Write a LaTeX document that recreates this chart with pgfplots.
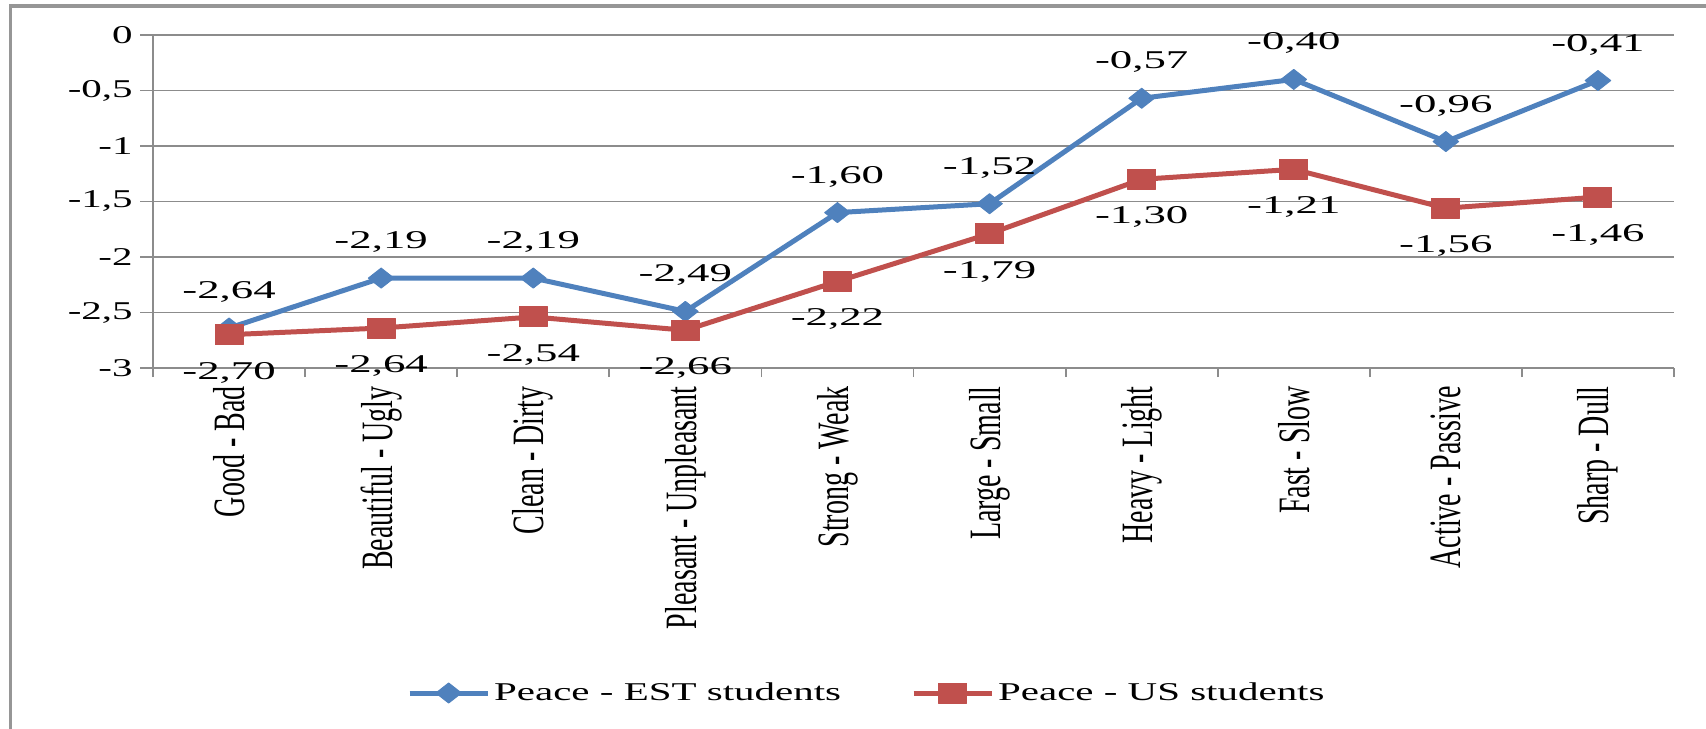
\documentclass[border=0pt]{standalone}
\usepackage{fontspec}
\setmainfont{Liberation Serif}
\newfontfamily\numfont{Liberation Serif}[FakeStretch=1.6]
\newfontfamily\datafont{Liberation Serif}[FakeStretch=1.75]
\newfontfamily\catfont{Liberation Serif}[FakeStretch=0.625]
\usepackage{pgfplots}
\usepackage{pgfplotstable}
\pgfplotsset{compat=1.18}
\definecolor{estblue}{RGB}{79,129,189}
\definecolor{usred}{RGB}{192,80,77}
\definecolor{gridgray}{RGB}{140,140,140}
\definecolor{framegray}{RGB}{150,150,150}
\newcommand\numsize{\fontsize{12.8}{14}\selectfont}
\newcommand\catsize{\fontsize{22.4}{24}\selectfont}

\pgfplotstableread{
x y
1 -2.64
2 -2.19
3 -2.19
4 -2.49
5 -1.60
6 -1.52
7 -0.57
8 -0.40
9 -0.96
10 -0.41
}\est
\pgfplotstableread{
x y
1 -2.70
2 -2.64
3 -2.54
4 -2.66
5 -2.22
6 -1.79
7 -1.30
8 -1.21
9 -1.56
10 -1.46
}\us

\begin{document}
\begin{tikzpicture}
\useasboundingbox (-76.5pt,-180pt) rectangle (776.5pt,184pt);
\draw[framegray, line width=1.75pt] (-71.25pt,-190pt) -- (-71.25pt,181pt) -- (790pt,181pt);
\begin{axis}[
  at={(0pt,0pt)}, anchor=south west,
  scale only axis, width=760.5pt, height=166.5pt,
  xmin=0.5, xmax=10.5, ymin=-3, ymax=0,
  axis x line=bottom, axis y line=left,
  every outer x axis line/.append style={-},
  every outer y axis line/.append style={-},
  axis line style={draw=gridgray, line width=0.9pt},
  ymajorgrids, major grid style={draw=gridgray, line width=0.9pt},
  tick align=outside,
  xtick={1,...,10},
  xticklabels={Good - Bad, Beautiful - Ugly, Clean - Dirty, Pleasant - Unpleasant, Strong - Weak, Large - Small, Heavy - Light, Fast - Slow, Active - Passive, Sharp - Dull},
  minor xtick={0.5,1.5,...,10.5},
  major x tick style={draw=none},
  minor x tick style={draw=gridgray, line width=0.9pt},
  minor tick length=4.5pt,
  major tick length=6.5pt,
  major y tick style={draw=gridgray, line width=0.9pt},
  ytick={-3,-2.5,-2,-1.5,-1,-0.5,0},
  yticklabels={{-3},{-2,5},{-2},{-1,5},{-1},{-0,5},{0}},
  yticklabel style={font=\numfont\numsize, anchor=east, inner sep=0pt, xshift=-3.5pt},
  xticklabel style={font=\catfont\catsize, yshift=-2.5pt, rotate=90, anchor=east, inner sep=0pt},
  legend image code/.code={
    \draw[#1, mark repeat=2, mark phase=2] plot coordinates {(0pt,0pt) (19.5pt,0pt) (39pt,0pt)};
  },
  legend style={draw=none, fill=none, at={(0.47,-0.976)}, anchor=center,
    font=\numfont\numsize, legend columns=2,
    /tikz/every even column/.append style={column sep=33pt},
    nodes={inner xsep=2pt}},
  clip=false,
]
\addplot[estblue, line width=2.5pt, line join=round, mark=diamond*, mark size=5pt,
  mark options={xscale=1.7, solid, line width=0.5pt},
  nodes near coords={\pgfmathprintnumber[fixed,fixed zerofill,precision=2,use comma,assume math mode=true]{\pgfplotspointmeta}},
  every node near coord/.append style={font=\datafont\numsize, text=black, anchor=center, yshift=18pt}]
  table[x=x,y=y]{\est};
\addlegendentry{Peace - EST students}
\addplot[usred, line width=2.5pt, line join=round, mark=square*, mark size=5pt,
  mark options={xscale=1.4, solid, line width=0.5pt},
  nodes near coords={\pgfmathprintnumber[fixed,fixed zerofill,precision=2,use comma,assume math mode=true]{\pgfplotspointmeta}},
  every node near coord/.append style={font=\datafont\numsize, text=black, anchor=center, yshift=-19pt}]
  table[x=x,y=y]{\us};
\addlegendentry{Peace - US students}
\end{axis}
\end{tikzpicture}
\end{document}
